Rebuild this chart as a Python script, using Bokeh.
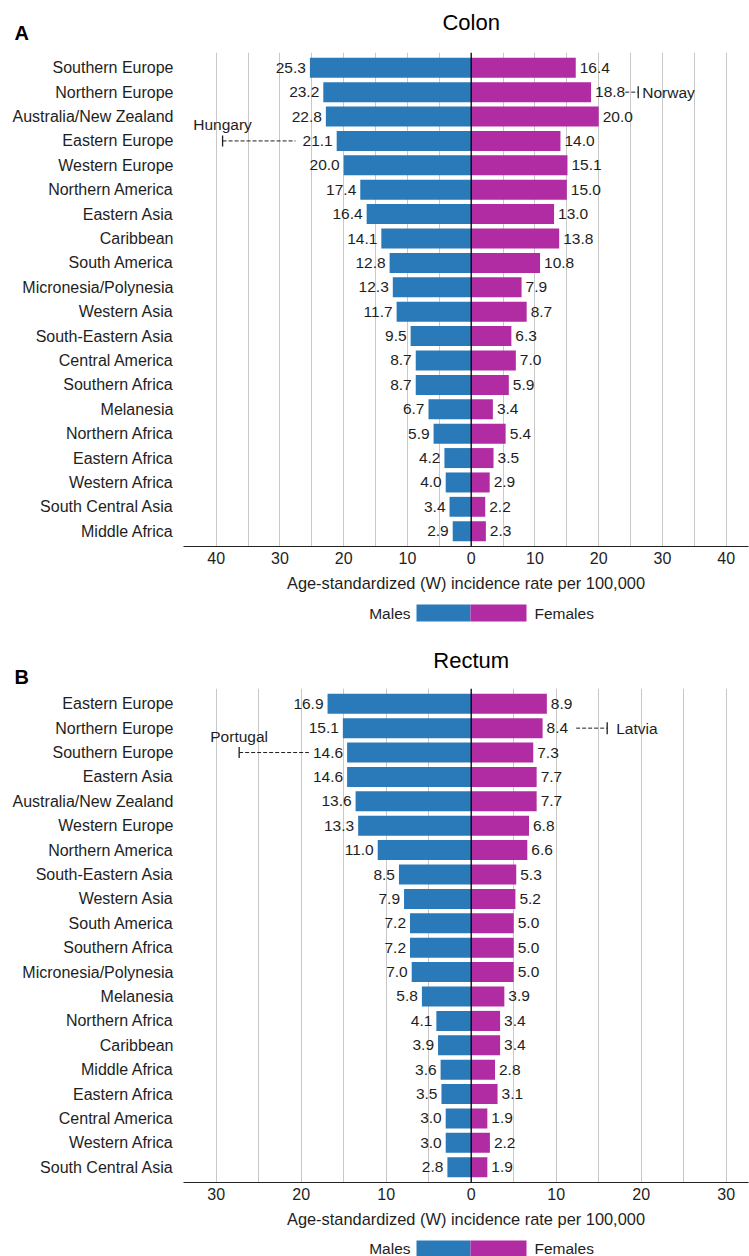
import math
from bokeh.plotting import figure
from bokeh.models import FactorRange, Range1d, FixedTicker, Span, ColumnDataSource
from bokeh.layouts import column, row
from bokeh.embed import file_html
from bokeh.resources import INLINE
from bokeh.core.properties import value

# ---------------- data ----------------
colon_regions = ["Southern Europe", "Northern Europe", "Australia/New Zealand", "Eastern Europe",
                 "Western Europe", "Northern America", "Eastern Asia", "Caribbean", "South America",
                 "Micronesia/Polynesia", "Western Asia", "South-Eastern Asia", "Central America",
                 "Southern Africa", "Melanesia", "Northern Africa", "Eastern Africa", "Western Africa",
                 "South Central Asia", "Middle Africa"]
colon_males = [25.3, 23.2, 22.8, 21.1, 20.0, 17.4, 16.4, 14.1, 12.8, 12.3, 11.7, 9.5, 8.7, 8.7,
               6.7, 5.9, 4.2, 4.0, 3.4, 2.9]
colon_females = [16.4, 18.8, 20.0, 14.0, 15.1, 15.0, 13.0, 13.8, 10.8, 7.9, 8.7, 6.3, 7.0, 5.9,
                 3.4, 5.4, 3.5, 2.9, 2.2, 2.3]

rectum_regions = ["Eastern Europe", "Northern Europe", "Southern Europe", "Eastern Asia",
                  "Australia/New Zealand", "Western Europe", "Northern America", "South-Eastern Asia",
                  "Western Asia", "South America", "Southern Africa", "Micronesia/Polynesia",
                  "Melanesia", "Northern Africa", "Caribbean", "Middle Africa", "Eastern Africa",
                  "Central America", "Western Africa", "South Central Asia"]
rectum_males = [16.9, 15.1, 14.6, 14.6, 13.6, 13.3, 11.0, 8.5, 7.9, 7.2, 7.2, 7.0, 5.8, 4.1, 3.9,
                3.6, 3.5, 3.0, 3.0, 2.8]
rectum_females = [8.9, 8.4, 7.3, 7.7, 7.7, 6.8, 6.6, 5.3, 5.2, 5.0, 5.0, 5.0, 3.9, 3.4, 3.4,
                  2.8, 3.1, 1.9, 2.2, 1.9]

colon_ticks = [-40, -30, -20, -10, 0, 10, 20, 30, 40]
rectum_ticks = [-30, -20, -10, 0, 10, 20, 30]

# highest-rate country markers
colon_ref_country = ["Hungary", "Norway"]
colon_ref_region = ["Eastern Europe", "Northern Europe"]
colon_ref_sex = ["Males", "Females"]
colon_ref_rate = [39.0, 26.2]

rectum_ref_country = ["Portugal", "Latvia"]
rectum_ref_region = ["Southern Europe", "Northern Europe"]
rectum_ref_sex = ["Males", "Females"]
rectum_ref_rate = [27.3, 16.0]

# ---------------- style ----------------
FONT = "Liberation Sans"
BLUE = "#2a7ab9"
MAGENTA = "#b12ba2"
TXT = "#1e1e1e"
W = 749
LEFT = 183
RIGHT = 1
FRAME_W = W - LEFT - RIGHT
ZERO_PX = 287.7          # zero position inside the frame
VAL_FS = 15.5


def text_w(s, fs=VAL_FS):
    return sum(0.278 if c == "." else 0.556 for c in s) * fs


def blank(height, left=0, right=0):
    q = figure(width=W, height=height, output_backend="svg", toolbar_location=None,
               x_range=Range1d(left, W - right), y_range=Range1d(height, 0),
               x_axis_location=None, y_axis_location=None,
               min_border=0, min_border_left=left, min_border_right=right,
               min_border_top=0, min_border_bottom=0)
    q.outline_line_color = None
    q.xgrid.grid_line_color = None
    q.ygrid.grid_line_color = None
    return q


def make_header(height, title, letter, title_y, letter_y):
    q = blank(height)
    q.text(x=[LEFT + ZERO_PX], y=[title_y], text=[title], text_align="center",
           text_baseline="middle", text_font=value(FONT), text_font_size="22px",
           text_color="black")
    q.text(x=[14], y=[letter_y], text=[letter], text_align="left",
           text_baseline="middle", text_font=value(FONT), text_font_size="20px",
           text_font_style="bold", text_color="black")
    return row(q)   # nested so its frame is not aligned with the panels


def make_legend(height, yc, box_h):
    # frame aligned with the panels: x data == page pixels
    q = blank(height, LEFT, RIGHT)
    q.quad(left=[416], right=[470], top=[yc - box_h / 2], bottom=[yc + box_h / 2],
           fill_color=BLUE, line_color=None)
    q.quad(left=[470], right=[526], top=[yc - box_h / 2], bottom=[yc + box_h / 2],
           fill_color=MAGENTA, line_color=None)
    q.text(x=[410], y=[yc], text=["Males"], text_align="right", text_baseline="middle",
           text_font=value(FONT), text_font_size="15.5px", text_color=TXT)
    q.text(x=[534], y=[yc], text=["Females"], text_align="left", text_baseline="middle",
           text_font=value(FONT), text_font_size="15.5px", text_color=TXT)
    return q


def make_panel(regions, males, females, ticks, ppu, ref, frame_h, bbot):
    x0 = -ZERO_PX / ppu
    x1 = (FRAME_W - ZERO_PX) / ppu
    p = figure(width=W, height=frame_h + bbot, output_backend="svg",
               toolbar_location=None,
               x_range=Range1d(x0, x1),
               y_range=FactorRange(factors=regions[::-1], range_padding=0.125,
                                   range_padding_units="absolute"),
               min_border_left=LEFT, min_border_right=RIGHT, min_border_top=0,
               min_border_bottom=bbot)
    p.outline_line_color = None
    p.background_fill_color = "white"
    p.border_fill_color = "white"

    src = ColumnDataSource(dict(
        region=regions,
        mneg=[-m for m in males],
        f=females,
        mlab=[f"{m:.1f}" for m in males],
        flab=[f"{f:.1f}" for f in females],
    ))
    p.hbar(y="region", left="mneg", right=0, height=0.82, source=src,
           fill_color=BLUE, line_color=None)
    p.hbar(y="region", left=0, right="f", height=0.82, source=src,
           fill_color=MAGENTA, line_color=None)

    p.text(x="mneg", y="region", text="mlab", source=src, x_offset=-4,
           text_align="right", text_baseline="middle", text_font=value(FONT),
           text_font_size=f"{VAL_FS}px", text_color=TXT)
    p.text(x="f", y="region", text="flab", source=src, x_offset=4,
           text_align="left", text_baseline="middle", text_font=value(FONT),
           text_font_size=f"{VAL_FS}px", text_color=TXT)

    # reference (highest-rate) country annotations
    countries, rregions, sexes, rates, gaps, name_off = ref
    mdict = dict(zip(regions, males))
    fdict = dict(zip(regions, females))
    for c, rg, sx, rt, gap, noff in zip(countries, rregions, sexes, rates, gaps, name_off):
        if sx == "Males":
            v = mdict[rg]
            lab = f"{v:.1f}"
            dash_end = -(v + (4 + text_w(lab) + gap) / ppu)
            tick = -rt
            p.segment(x0=[tick], y0=[rg], x1=[dash_end], y1=[rg], line_color=TXT,
                      line_width=1, line_dash="4 2")
            p.scatter(x=[tick], y=[rg], marker="dash", angle=math.pi / 2, size=11,
                      line_color=TXT, line_width=1.3)
            p.text(x=[tick], y=[rg], text=[c], y_offset=-16, text_align="center",
                   text_baseline="middle", text_font=value(FONT),
                   text_font_size=f"{VAL_FS}px", text_color=TXT)
        else:
            v = fdict[rg]
            lab = f"{v:.1f}"
            dash_start = v + (4 + text_w(lab) + gap) / ppu
            tick = rt
            p.segment(x0=[dash_start], y0=[rg], x1=[tick], y1=[rg], line_color=TXT,
                      line_width=1, line_dash="4 2")
            p.scatter(x=[tick], y=[rg], marker="dash", angle=math.pi / 2, size=12,
                      line_color=TXT, line_width=1.3)
            p.text(x=[tick], y=[rg], text=[c], x_offset=noff, text_align="left",
                   text_baseline="middle", text_font=value(FONT),
                   text_font_size=f"{VAL_FS}px", text_color=TXT)

    p.add_layout(Span(location=0, dimension="height", line_color="black", line_width=1.3))

    # axes
    p.xaxis.ticker = FixedTicker(ticks=ticks)
    p.xaxis.major_label_overrides = {t: str(abs(t)) for t in ticks}
    p.xaxis.major_tick_out = 0
    p.xaxis.major_tick_in = 0
    p.xaxis.minor_tick_out = 0
    p.xaxis.minor_tick_in = 0
    p.xaxis.axis_line_color = "#222222"
    p.xaxis.axis_line_width = 1.2
    p.xaxis.major_label_text_font = FONT
    p.xaxis.major_label_text_font_size = "16px"
    p.xaxis.major_label_text_color = TXT
    p.xaxis.major_label_standoff = 5
    p.xaxis.axis_label = "Age-standardized (W) incidence rate per 100,000"
    p.xaxis.axis_label_text_font = FONT
    p.xaxis.axis_label_text_font_size = "16.4px"
    p.xaxis.axis_label_text_font_style = "normal"
    p.xaxis.axis_label_text_color = TXT
    p.xaxis.axis_label_standoff = 7

    p.yaxis.axis_line_color = None
    p.yaxis.major_tick_out = 0
    p.yaxis.major_tick_in = 0
    p.yaxis.major_label_standoff = 10
    p.yaxis.major_label_text_font = FONT
    p.yaxis.major_label_text_font_size = "16px"
    p.yaxis.major_label_text_color = TXT

    step = 5
    grid = [g for g in range(int(math.ceil(x0 / step)) * step, int(x1) + 1, step)
            if g != 0 and abs(g) <= 40]
    p.xgrid.ticker = FixedTicker(ticks=grid)
    p.xgrid.grid_line_color = "#c8c8c8"
    p.xgrid.grid_line_width = 1
    p.ygrid.grid_line_color = None
    return p


colon_ref = (colon_ref_country, colon_ref_region, colon_ref_sex, colon_ref_rate, [7, 0], [4, 4])
rectum_ref = (rectum_ref_country, rectum_ref_region, rectum_ref_sex, rectum_ref_rate, [4, 8], [9, 9])

ha = make_header(52, "Colon", "A", 22, 32)
pa = make_panel(colon_regions, colon_males, colon_females, colon_ticks, 6.375, colon_ref, 494, 54)
la = make_legend(32, 12.5, 17)
hb = make_header(56, "Rectum", "B", 28, 44)
pb = make_panel(rectum_regions, rectum_males, rectum_females, rectum_ticks, 8.5, rectum_ref, 494, 54)
lb = make_legend(20, 12, 16)

layout = column(ha, pa, la, hb, pb, lb, spacing=0)
open("out.html", "w").write(file_html(layout, INLINE))
